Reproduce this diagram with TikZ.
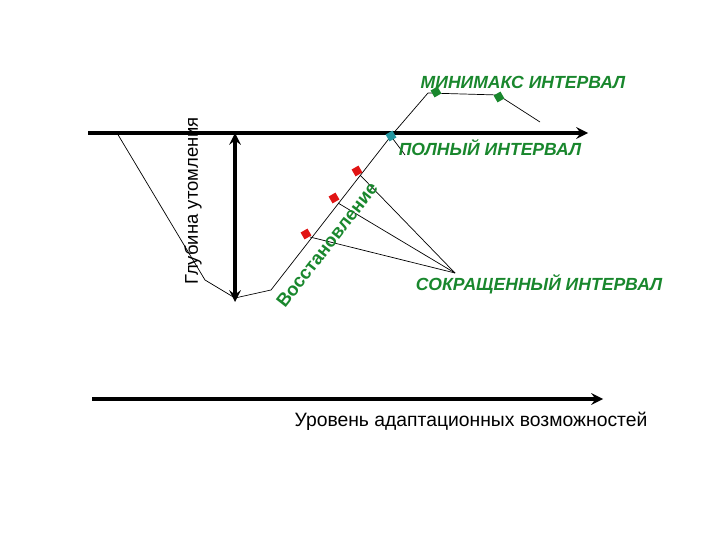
\documentclass[tikz,border=0pt]{standalone}
\usepackage{fontspec}
\setmainfont{Liberation Sans}
\usetikzlibrary{arrows,positioning,calc}
\definecolor{intgreen}{RGB}{25,135,45}
\definecolor{dotred}{RGB}{225,20,20}
\definecolor{dotteal}{RGB}{35,150,160}

\begin{document}
\begin{tikzpicture}[
    x=0.02cm, y=-0.02cm,
    axis/.style={line width=1.9pt, ->, >=stealth},
    thin line/.style={line width=0.4pt},
    dot/.style={rectangle, fill=#1, minimum size=4.5pt, inner sep=0pt, rotate=30},
    intlabel/.style={text=intgreen, font=\bfseries\itshape\fontsize{10}{12}\selectfont},
    plain/.style={font=\fontsize{10.5}{12}\selectfont}
]
    \useasboundingbox (0,0) rectangle (720,540);

    % axes
    \coordinate (top0) at (88,133);
    \coordinate (top1) at (588,133);
    \coordinate (bot0) at (92,399);
    \coordinate (bot1) at (603,399);
    \draw[axis] (top0) -- (top1);
    \draw[axis] (bot0) -- (bot1);

    % fatigue and recovery curve
    \coordinate (c0) at (117,133);
    \coordinate (c1) at (205,280);
    \coordinate (c2) at (235,298);
    \coordinate (c3) at (271,290);
    \coordinate (c4) at (391,136);
    \coordinate (c5) at (428,93);
    \coordinate (c6) at (498,95);
    \coordinate (c7) at (540,122);
    \draw[thin line] (c0) -- (c1) -- (c2) -- (c3) -- (c4) -- (c5) -- (c6) -- (c7);

    % depth arrow
    \coordinate (d0) at (235,133);
    \coordinate (d1) at (235,302);
    \draw[line width=1.9pt, <->, >=stealth] (d0) -- (d1);

    % points on the curve
    \coordinate (p1) at (310,237);
    \coordinate (p2) at (338,203);
    \coordinate (p3) at (360,175);
    \coordinate (hub) at (455,273);
    \coordinate (q0) at (393,139);
    \coordinate (q1) at (405,155);
    \draw[thin line] (p1) -- (hub);
    \draw[thin line] (p2) -- (hub);
    \draw[thin line] (p3) -- (hub);
    \draw[thin line] (q0) -- (q1);

    \node[dot=dotred] (r1) at (306,234) {};
    \node[dot=dotred] (r2) at (334,198) {};
    \node[dot=dotred] (r3) at (357,171) {};
    \node[dot=dotteal] (t1) at (391,136) {};
    \node[dot=intgreen] (g1) at (436,92) {};
    \node[dot=intgreen] (g2) at (499,97) {};

    % labels
    \node[plain, rotate=90] (depth) at (193,201) {Глубина утомления};
    \node[text=intgreen, font=\bfseries\fontsize{10.5}{12}\selectfont, rotate=52] (recov) at (327,245) {Восстановление};
    \node[intlabel] (minimax) at (523,82) {МИНИМАКС ИНТЕРВАЛ};
    \node[intlabel] (full) at (490,148) {ПОЛНЫЙ ИНТЕРВАЛ};
    \node[intlabel] (short) at (539,284) {СОКРАЩЕННЫЙ ИНТЕРВАЛ};
    \node[plain, font=\fontsize{11}{13}\selectfont] (level) at (471,421) {Уровень адаптационных возможностей};
\end{tikzpicture}
\end{document}
